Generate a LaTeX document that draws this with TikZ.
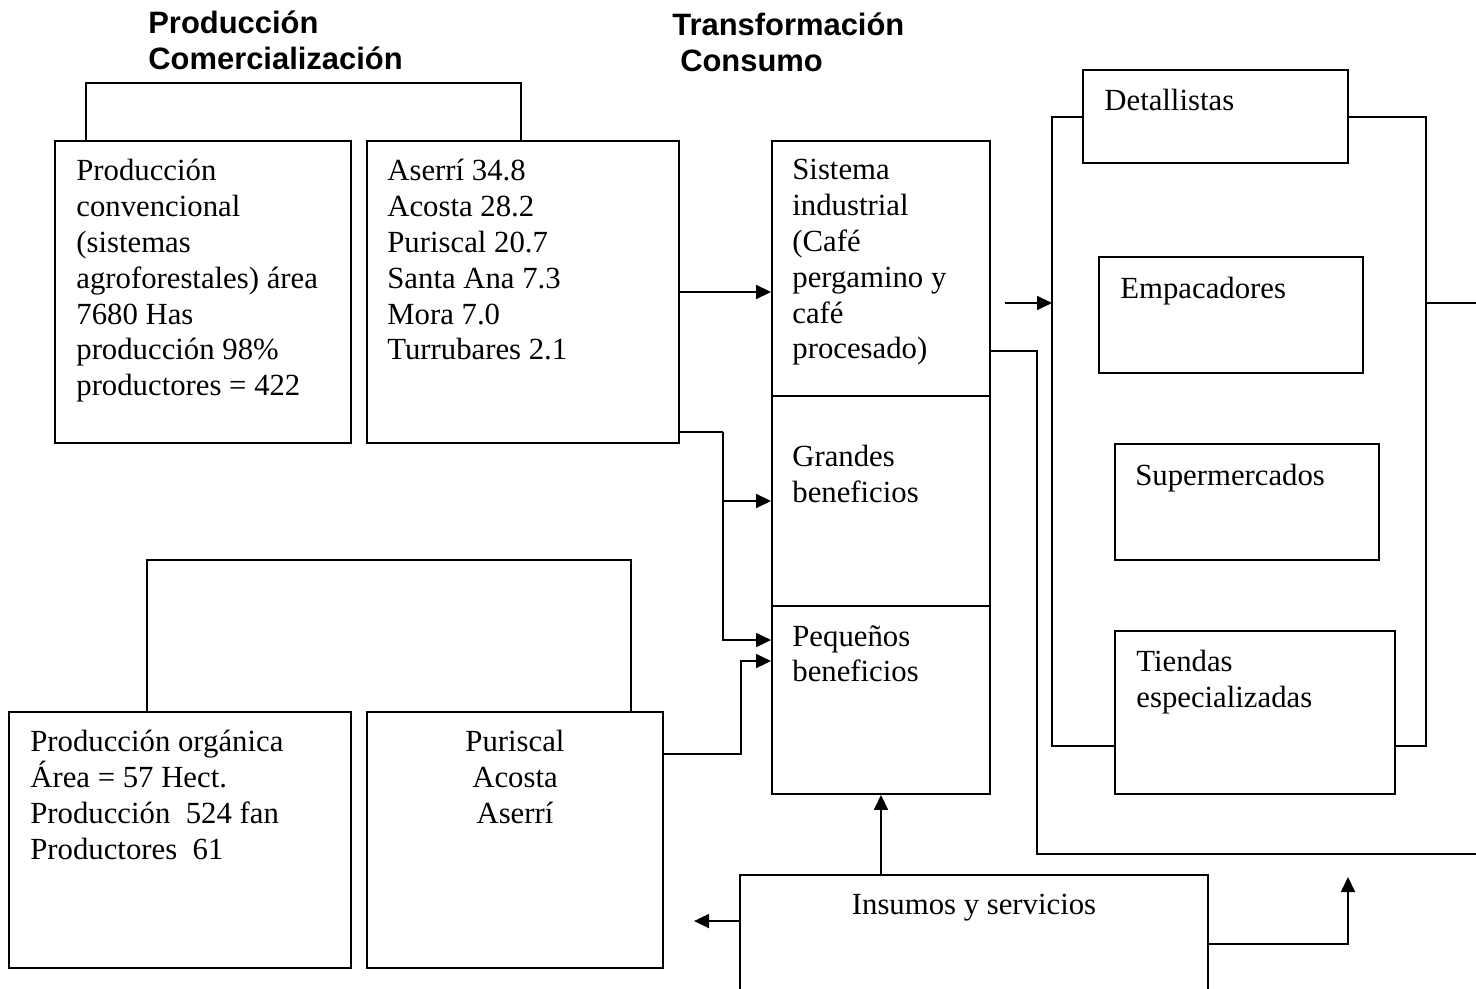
\documentclass[tikz,border=0pt]{standalone}
\usepackage{fontspec}
\setmainfont{Liberation Serif}
\newfontfamily\hdfont{Liberation Sans}
\usetikzlibrary{positioning,fit,calc,arrows.meta}

\tikzset{
  box/.style={draw=black, line width=1.1pt, inner sep=0pt},
  txt/.style={inner sep=0pt, align=left, anchor=north west,
    font=\fontsize{17.5}{20.4}\selectfont},
  hd/.style={inner sep=0pt, align=left, anchor=north west,
    font=\hdfont\bfseries\fontsize{17.6}{21}\selectfont},
  link/.style={draw=black, line width=1pt},
  arr/.style={link, -{Triangle[length=0.3cm,width=0.28cm]}}
}

\begin{document}
\begin{tikzpicture}[x=0.02cm, y=-0.02cm]
  \useasboundingbox (0,0) rectangle (1476,989);

  % headers
  \node[hd] (hprod) at (148,10) {Producción\\Comercialización};
  \node[hd] (htrans) at (672,12) {Transformación\\\hspace{4.5pt}Consumo};

  % producción convencional
  \node[box, fit={(55,141) (351,443)}] (conv) {};
  \node[txt, below right=0.38cm and 0.44cm of conv.north west] (convt)
    {Producción\\convencional\\(sistemas\\agroforestales) área\\7680 Has\\producción 98\%\\productores = 422};
  \node[box, fit={(367,141) (679,443)}] (cant) {};
  \node[txt, below right=0.38cm and 0.42cm of cant.north west] (cantt)
    {Aserrí 34.8\\Acosta 28.2\\Puriscal 20.7\\Santa Ana 7.3\\Mora 7.0\\Turrubares 2.1};
  \draw[link] ($(conv.north west)+(32,0)$) -- ++(0,-57) -| ($(cant.north west)+(155,0)$);

  % producción orgánica
  \node[box, fit={(9,712) (351,968)}] (org) {};
  \node[txt, below right=0.38cm and 0.44cm of org.north west] (orgt)
    {Producción orgánica\\Área = 57 Hect.\\Producción \ 524 fan\\Productores \ 61};
  \node[box, fit={(367,712) (663,968)}] (pur) {};
  \node[txt, align=center, anchor=north] at ($(pur.north)+(0,19)$) (purt)
    {Puriscal\\Acosta\\Aserrí};
  \draw[link] ($(org.north west)+(139,0)$) -- ++(0,-151) -| ($(pur.north west)+(265,0)$);

  % transformación
  \node[box, fit={(772,141) (990,396)}] (sis) {};
  \node[txt, below right=0.38cm and 0.42cm of sis.north west] (sist)
    {Sistema\\industrial\\(Café\\pergamino y\\café\\procesado)};
  \node[box, fit={(772,396) (990,606)}] (gran) {};
  \node[txt, below right=1.0cm and 0.42cm of gran.north west] (grant)
    {Grandes\\beneficios};
  \node[box, fit={(772,606) (990,794)}] (peq) {};
  \node[txt, below right=0.4cm and 0.42cm of peq.north west] (peqt)
    {Pequeños\\beneficios};

  % consumo
  \node[box, fit={(1083,70) (1348,163)}] (det) {};
  \node[txt, below right=0.4cm and 0.44cm of det.north west] (dett) {Detallistas};
  \node[box, fit={(1099,257) (1363,373)}] (emp) {};
  \node[txt, below right=0.42cm and 0.44cm of emp.north west] (empt) {Empacadores};
  \node[box, fit={(1115,444) (1379,560)}] (sup) {};
  \node[txt, below right=0.42cm and 0.42cm of sup.north west] (supt) {Supermercados};
  \node[box, fit={(1115,631) (1395,794)}] (tie) {};
  \node[txt, below right=0.4cm and 0.44cm of tie.north west] (tiet)
    {Tiendas\\especializadas};
  \coordinate (bl) at (1052,117);
  \coordinate (br) at (1426,117);
  \draw[link] (det.west |- bl) -- (bl) |- ($(tie.south west)+(0,-49)$);
  \draw[link] (det.east |- br) -- (br) |- ($(tie.south east)+(0,-49)$);
  \coordinate (cin) at (1005,303);
  \coordinate (cout) at (1476,303);
  \draw[arr] (cin) -- (cin -| bl);
  \draw[link] (cout -| br) -- (cout);

  % insumos
  \node[box, fit={(740,875) (1208,1010)}] (ins) {};
  \node[txt, anchor=north] at ($(ins.north)+(0,20)$) (inst) {Insumos y servicios};
  \coordinate (fin) at (1476,854);
  \coordinate (tip) at (1348,877);

  % flujos
  \draw[arr] (cant.east) -- (cant.east -| sis.west);
  \coordinate (j1) at ($(cant.south east)+(43,-12)$);
  \draw[link] ($(cant.south east)+(0,-12)$) -- (j1);
  \draw[arr] (j1) |- (gran.west);
  \draw[arr] (j1) |- ($(peq.north west)+(0,35)$);
  \draw[arr] ($(pur.north east)+(0,43)$) -- ++(77,0) |- ($(peq.north west)+(0,56)$);
  \draw[link] ($(sis.south east)+(0,-46)$) -| ($(fin)+(-439,0)$) -- (fin);
  \draw[arr] (ins.north -| peq.south) -- (peq.south);
  \draw[arr] ($(ins.north west)+(0,47)$) -- ++(-45,0);
  \draw[arr] ($(ins.north east)+(0,70)$) -| (tip);
\end{tikzpicture}
\end{document}
